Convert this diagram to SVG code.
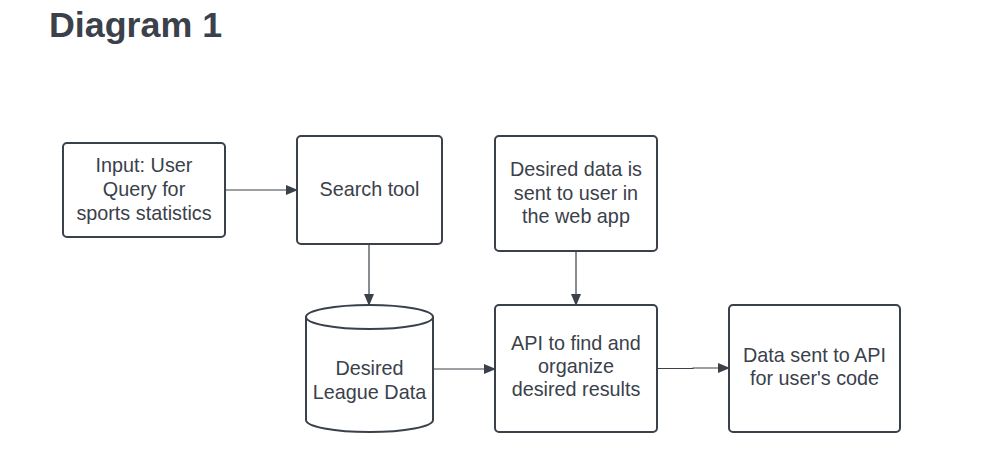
<svg xmlns="http://www.w3.org/2000/svg" width="998" height="458" viewBox="0 0 998 458">
<style>
.box{fill:#fff;stroke:#3a414a;stroke-width:2}
.t{font-family:"Liberation Sans",Arial,sans-serif;font-size:19.8px;fill:#3a414a;text-anchor:middle}
.title{font-family:"Liberation Sans",Arial,sans-serif;font-size:35.8px;font-weight:bold;fill:#3a414a}
.c{fill:none;stroke:#3a414a;stroke-width:1.2}
</style>
<defs>
<marker id="ah" markerWidth="12" markerHeight="10" refX="11" refY="5" orient="auto" markerUnits="userSpaceOnUse">
<path d="M0,0 L12,5 L0,10 Z" fill="#3a414a"/>
</marker>
</defs>
<rect width="998" height="458" fill="#fff"/>
<text class="title" x="49" y="37">Diagram 1</text>
<g id="connectors">
<line class="c" x1="225" y1="190" x2="297" y2="190" marker-end="url(#ah)"/>
<line class="c" x1="369" y1="244" x2="369" y2="305" marker-end="url(#ah)"/>
<line class="c" x1="433" y1="369" x2="495" y2="369" marker-end="url(#ah)"/>
<line class="c" x1="576" y1="251" x2="576" y2="305" marker-end="url(#ah)"/>
<path class="c" d="M657,368.5 L693,368.5 L693,368 L729,368" marker-end="url(#ah)"/>
</g>
<g id="input">
<rect class="box" x="63" y="143" width="162" height="94" rx="4"/>
<text class="t" x="144" y="172">Input: User</text>
<text class="t" x="144" y="196">Query for</text>
<text class="t" x="144" y="220">sports statistics</text>
</g>
<g id="search">
<rect class="box" x="297" y="136" width="145" height="108" rx="4"/>
<text class="t" x="369.5" y="196">Search tool</text>
</g>
<g id="league">
<path class="box" d="M306,317 L306,420 A63.5,12 0 0 0 433,420 L433,317 A63.5,12 0 0 0 306,317 Z"/>
<path class="box" d="M306,317 A63.5,12 0 0 0 433,317" fill="none"/>
<text class="t" x="369.5" y="375">Desired</text>
<text class="t" x="369.5" y="399">League Data</text>
</g>
<g id="webapp">
<rect class="box" x="495" y="136" width="162" height="115" rx="4"/>
<text class="t" x="576" y="176">Desired data is</text>
<text class="t" x="576" y="200">sent to user in</text>
<text class="t" x="576" y="223">the web app</text>
</g>
<g id="api">
<rect class="box" x="495" y="305" width="162" height="127" rx="4"/>
<text class="t" x="576" y="350">API to find and</text>
<text class="t" x="576" y="373">organize</text>
<text class="t" x="576" y="396">desired results</text>
</g>
<g id="datasent">
<rect class="box" x="729" y="305" width="171" height="127" rx="4"/>
<text class="t" x="814.5" y="362">Data sent to API</text>
<text class="t" x="814.5" y="385">for user's code</text>
</g>
</svg>
